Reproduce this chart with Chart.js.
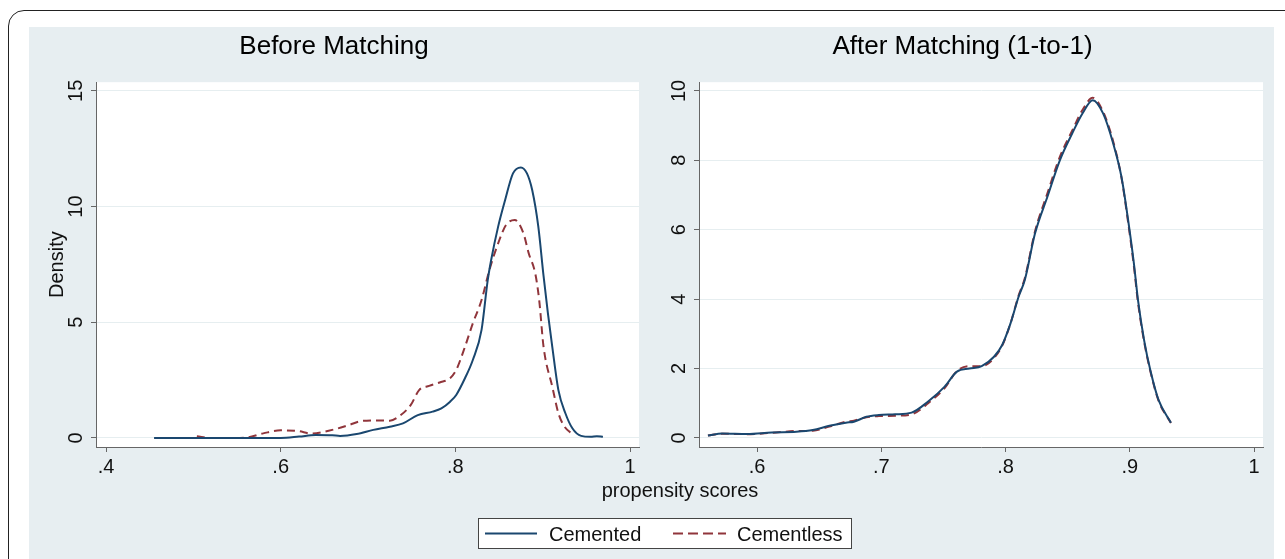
<!DOCTYPE html>
<html>
<head>
<meta charset="utf-8">
<script src="https://cdn.jsdelivr.net/npm/chart.js@4.4.1/dist/chart.umd.min.js"></script>
<style>
  html, body { margin: 0; padding: 0; background: #fff; }
  body { width: 1285px; height: 559px; position: relative; overflow: hidden; font-family: "Liberation Sans", Arial, sans-serif; color: #111; }
  #frame { position: absolute; left: 8px; top: 10px; width: 1320px; height: 620px; border: 1.5px solid #222; border-radius: 16px; }
  #panel { position: absolute; left: 29px; top: 27px; width: 1245px; height: 560px; background: #e7eef1; }
  canvas { position: absolute; }
  #before { left: 29px; top: 27px; }
  #after { left: 662px; top: 27px; }
  #xtitle { position: absolute; left: 580px; top: 478px; width: 200px; text-align: center; font-size: 20px; line-height: 24px; }
  #legend { position: absolute; left: 478px; top: 518px; width: 372px; height: 29px; background: #fff; border: 1px solid #444; }
  #legend .lbl { position: absolute; top: 3px; font-size: 20px; line-height: 24px; }
  #legend svg { position: absolute; left: 0; top: 0; }
</style>
</head>
<body>
<div id="frame"></div>
<div id="panel"></div>
<canvas id="before" width="622" height="463"></canvas>
<canvas id="after" width="622" height="463"></canvas>
<div id="xtitle">propensity scores</div>
<div id="legend">
  <svg width="372" height="29">
    <line x1="6" y1="14.5" x2="58" y2="14.5" stroke="#1a476f" stroke-width="2"></line>
    <line x1="194" y1="14.5" x2="247" y2="14.5" stroke="#90353b" stroke-width="2" stroke-dasharray="10 5"></line>
  </svg>
  <span class="lbl" style="left:70px">Cemented</span>
  <span class="lbl" style="left:258px">Cementless</span>
</div>
<script>
// Before matching: kernel densities
const beforeCementedX = [0.455, 0.50, 0.55, 0.60, 0.621, 0.640, 0.659, 0.668, 0.687, 0.706, 0.725, 0.740, 0.757, 0.774, 0.784, 0.794, 0.801, 0.811, 0.820, 0.830, 0.837, 0.841, 0.849, 0.857, 0.866, 0.875, 0.882, 0.888, 0.895, 0.901, 0.906, 0.911, 0.918, 0.926, 0.934, 0.944, 0.955, 0.962, 0.969];
const beforeCementedY = [0.0, 0.0, 0.0, 0.0, 0.06, 0.13, 0.12, 0.09, 0.17, 0.35, 0.49, 0.63, 0.99, 1.14, 1.28, 1.57, 1.86, 2.58, 3.37, 4.67, 6.8, 7.69, 9.13, 10.28, 11.43, 11.69, 11.43, 10.71, 9.13, 7.0, 5.38, 3.94, 2.07, 1.07, 0.42, 0.09, 0.05, 0.08, 0.05];
const beforeCementlessX = [0.504, 0.52, 0.54, 0.56, 0.58, 0.60, 0.62, 0.635, 0.659, 0.678, 0.692, 0.710, 0.725, 0.735, 0.749, 0.7585, 0.770, 0.782, 0.794, 0.801, 0.811, 0.820, 0.830, 0.839, 0.849, 0.858, 0.868, 0.878, 0.884, 0.8915, 0.896, 0.901, 0.911, 0.918, 0.925, 0.935];
const beforeCementlessY = [0.08, 0.0, 0.0, 0.02, 0.2, 0.33, 0.3, 0.19, 0.35, 0.56, 0.73, 0.76, 0.75, 0.92, 1.43, 2.07, 2.25, 2.4, 2.58, 2.94, 3.94, 4.95, 5.96, 7.26, 8.41, 9.2, 9.42, 8.84, 7.98, 7.11, 5.96, 3.94, 2.22, 1.07, 0.49, 0.15];

// After matching (1-to-1): both groups share the same grid
const afterX = [0.5605, 0.5721, 0.592, 0.6118, 0.6317, 0.6449, 0.6582, 0.6715, 0.678, 0.688, 0.698, 0.7111, 0.7244, 0.7377, 0.751, 0.7609, 0.7709, 0.7808, 0.7907, 0.7973, 0.804, 0.8105, 0.8155, 0.8237, 0.8337, 0.8437, 0.8536, 0.8619, 0.8702, 0.8785, 0.8866, 0.8933, 0.8983, 0.9033, 0.9066, 0.9115, 0.9165, 0.9232, 0.9331];
const afterCementedY = [0.07, 0.13, 0.115, 0.16, 0.18, 0.23, 0.35, 0.44, 0.47, 0.61, 0.66, 0.68, 0.73, 1.05, 1.48, 1.91, 2.0, 2.07, 2.34, 2.68, 3.3, 4.07, 4.55, 5.89, 6.95, 8.0, 8.77, 9.35, 9.73, 9.35, 8.49, 7.52, 6.37, 5.03, 3.97, 2.82, 1.96, 1.09, 0.44];
const afterCementlessY = [0.07, 0.12, 0.11, 0.15, 0.2, 0.21, 0.33, 0.47, 0.5, 0.6, 0.63, 0.64, 0.68, 1.0, 1.44, 1.93, 2.07, 2.07, 2.3, 2.66, 3.3, 4.1, 4.6, 5.95, 7.05, 8.1, 8.85, 9.45, 9.8, 9.4, 8.55, 7.5, 6.3, 4.95, 3.9, 2.78, 1.93, 1.07, 0.43];

// Tick values and labels
const beforeXTicks = [0.4, 0.6, 0.8, 1];
const beforeXLabels = ['.4', '.6', '.8', '1'];
const beforeYTicks = [0, 5, 10, 15];
const beforeYLabels = ['0', '5', '10', '15'];
const afterXTicks = [0.6, 0.7, 0.8, 0.9, 1];
const afterXLabels = ['.6', '.7', '.8', '.9', '1'];
const afterYTicks = [0, 2, 4, 6, 8, 10];
const afterYLabels = ['0', '2', '4', '6', '8', '10'];

const NAVY = '#1a476f';
const MAROON = '#90353b';
const AXIS = '#666';

Chart.defaults.font.family = '"Liberation Sans", Arial, sans-serif';
Chart.defaults.font.size = 20;
Chart.defaults.color = '#111';

const plotBg = {
    id: 'plotBg',
    beforeDraw(chart) {
        const { ctx, chartArea: a } = chart;
        ctx.save();
        ctx.fillStyle = '#fff';
        ctx.fillRect(a.left, a.top, a.width, a.height);
        ctx.restore();
    }
};

const toPoints = (xs, ys) => xs.map((x, i) => ({ x, y: ys[i] }));

const makeChart = (id, cfg) => new Chart(document.getElementById(id), {
    type: 'line',
    data: {
        datasets: [{
            label: 'Cemented',
            data: toPoints(cfg.cementedX, cfg.cementedY),
            borderColor: NAVY,
            borderWidth: 2,
            pointRadius: 0,
            cubicInterpolationMode: 'monotone',
            fill: false
        }, {
            label: 'Cementless',
            data: toPoints(cfg.cementlessX, cfg.cementlessY),
            borderColor: MAROON,
            borderWidth: 2,
            borderDash: [8, 5],
            pointRadius: 0,
            cubicInterpolationMode: 'monotone',
            fill: false
        }]
    },
    options: {
        responsive: false,
        animation: false,
        layout: { padding: { left: 0, top: 0, bottom: 0, right: cfg.padRight } },
        plugins: {
            legend: { display: false },
            tooltip: { enabled: false },
            title: {
                display: true,
                text: cfg.title,
                color: '#000',
                font: { size: 26, weight: 'normal' },
                padding: { top: 4, bottom: 20 }
            }
        },
        scales: {
            x: {
                type: 'linear',
                min: cfg.xMin,
                max: cfg.xMax,
                afterBuildTicks: s => { s.ticks = cfg.xTicks.map(v => ({ value: v })); },
                afterFit: s => { s.height = 43; },
                ticks: {
                    padding: 3,
                    maxRotation: 0,
                    autoSkip: false,
                    callback: (v, i) => cfg.xLabels[i]
                },
                grid: { drawOnChartArea: false, drawTicks: true, tickLength: 5, tickColor: AXIS },
                border: { display: true, color: AXIS, width: 1 }
            },
            y: {
                min: cfg.yMin,
                max: cfg.yMax,
                afterBuildTicks: s => { s.ticks = cfg.yTicks.map(v => ({ value: v })); },
                afterFit: s => { s.width = cfg.yWidth; },
                ticks: {
                    padding: 3,
                    minRotation: 90,
                    maxRotation: 90,
                    crossAlign: 'center',
                    autoSkip: false,
                    callback: (v, i) => cfg.yLabels[i]
                },
                grid: { color: '#e6eef0', lineWidth: 1, drawTicks: true, tickLength: 5, tickColor: AXIS },
                border: { display: true, color: AXIS, width: 1 },
                title: {
                    display: !!cfg.yTitle,
                    text: cfg.yTitle || '',
                    color: '#111',
                    font: { size: 20 },
                    padding: { top: 16, bottom: 0 }
                }
            }
        }
    },
    plugins: [plotBg]
});

makeChart('before', {
    title: 'Before Matching',
    cementedX: beforeCementedX, cementedY: beforeCementedY,
    cementlessX: beforeCementlessX, cementlessY: beforeCementlessY,
    xMin: 0.3885, xMax: 1.0103, yMin: -0.389, yMax: 15.37,
    xTicks: beforeXTicks, xLabels: beforeXLabels,
    yTicks: beforeYTicks, yLabels: beforeYLabels,
    yTitle: 'Density', yWidth: 67, padRight: 12
});

makeChart('after', {
    title: 'After Matching (1-to-1)',
    cementedX: afterX, cementedY: afterCementedY,
    cementlessX: afterX, cementlessY: afterCementlessY,
    xMin: 0.5533, xMax: 1.0072, yMin: -0.26, yMax: 10.25,
    xTicks: afterXTicks, xLabels: afterXLabels,
    yTicks: afterYTicks, yLabels: afterYLabels,
    yTitle: null, yWidth: 37, padRight: 21
});
</script>
</body>
</html>
